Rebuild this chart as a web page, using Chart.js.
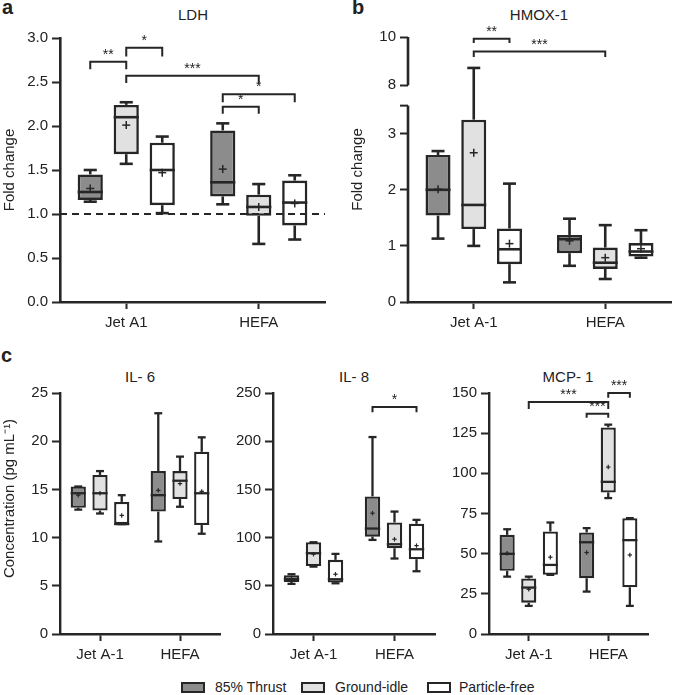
<!DOCTYPE html>
<html><head><meta charset="utf-8">
<script src="https://cdn.jsdelivr.net/npm/chart.js@4.4.0/dist/chart.umd.min.js"></script>
<style>
html,body{margin:0;padding:0;background:#fff}
body{width:673px;height:695px;position:relative;overflow:hidden;font-family:"Liberation Sans",Arial,sans-serif;color:#222}
canvas{position:absolute}
.t{position:absolute;font-size:15px;line-height:15px;transform:translateX(-50%);white-space:nowrap}
.lt{position:absolute;font-weight:bold;font-size:20px;line-height:20px}
.lg{position:absolute;font-size:14px;line-height:14px;white-space:nowrap}
.sw{position:absolute;width:20px;height:7px;border:2px solid #262626}
</style></head><body>
<div class="lt" style="left:2px;top:-3px">a</div>
<div class="lt" style="left:352px;top:-3px">b</div>
<div class="lt" style="left:1px;top:345px">c</div>
<div class="t" style="left:193px;top:7px">LDH</div>
<div class="t" style="left:539px;top:7px">HMOX-1</div>
<div class="t" style="left:140px;top:369px">IL- 6</div>
<div class="t" style="left:354px;top:369px">IL- 8</div>
<div class="t" style="left:568px;top:369px">MCP- 1</div>
<div id="legend"></div>
<canvas id="cA" width="330" height="340" style="left:0;top:0"></canvas>
<canvas id="cB" width="343" height="340" style="left:330px;top:0"></canvas>
<canvas id="c6" width="225" height="345" style="left:0;top:330px"></canvas>
<canvas id="c8" width="215" height="345" style="left:225px;top:330px"></canvas>
<canvas id="cM" width="233" height="345" style="left:440px;top:330px"></canvas>
<script>
// ---------------- data ----------------
const SERIES = ['85% Thrust', 'Ground-idle', 'Particle-free'];
const groupsLDH = ['Jet A1', 'HEFA'];
const groupsOther = ['Jet A-1', 'HEFA'];

// each box: [min, q1, median, q3, max, mean]   (one entry per group)
const ldhThrust = [[1.14, 1.16, 1.25, 1.45, 1.50, 1.29], [1.11, 1.20, 1.36, 1.95, 2.03, 1.51]];
const ldhIdle   = [[1.57, 1.68, 2.10, 2.24, 2.27, 2.01], [0.66, 0.98, 1.08, 1.22, 1.34, 1.08]];
const ldhFree   = [[1.01, 1.10, 1.50, 1.81, 1.88, 1.47], [0.71, 0.87, 1.13, 1.38, 1.44, 1.12]];
const ldhTicks  = [0, 0.5, 1.0, 1.5, 2.0, 2.5, 3.0];
// [group1, series1, group2, series2, bracket value, tip value, label]
const ldhBrackets = [
  [0, 0, 0, 1, 2.73, 2.645, '**'],
  [0, 1, 0, 2, 2.89, 2.79, '*'],
  [0, 1, 1, 1, 2.57, 2.49, '***'],
  [1, 0, 1, 2, 2.36, 2.27, '*'],
  [1, 0, 1, 1, 2.22, 2.14, '*']
];

const hmoxThrust = [[1.13, 1.54, 2.00, 2.62, 2.69, 2.01], [0.645, 0.87, 1.12, 1.195, 1.485, 1.09]];
const hmoxIdle   = [[1.00, 1.30, 1.73, 3.25, 8.72, 2.66], [0.41, 0.59, 0.70, 0.97, 1.37, 0.79]];
const hmoxFree   = [[0.35, 0.675, 0.94, 1.31, 2.11, 1.04], [0.79, 0.81, 0.90, 1.05, 1.28, 0.95]];
const hmoxTicks  = [0, 1, 2, 3, 8, 10];
const hmoxBrackets = [
  [0, 1, 0, 2, 9.93, 9.75, '**'],
  [0, 1, 1, 1, 9.40, 9.17, '***']
];

const il6Thrust = [[12.9, 13.1, 14.6, 15.3, 15.3, 14.4], [9.6, 12.7, 14.4, 16.9, 22.9, 14.9]];
const il6Idle   = [[12.5, 12.8, 14.6, 16.5, 16.9, 14.6], [13.2, 14.0, 15.9, 16.9, 18.4, 15.6]];
const il6Free   = [[11.4, 11.4, 11.4, 13.7, 14.4, 12.3], [10.4, 11.3, 14.6, 18.9, 20.4, 14.8]];
const il6Ticks  = [0, 5, 10, 15, 20, 25];

const il8Thrust = [[52, 54, 57, 61, 62, 57], [97.6, 101, 109.4, 142.7, 204.3, 125.3]];
const il8Idle   = [[69.9, 70.6, 83.8, 95.2, 95.2, 82.8], [78.3, 89, 93.1, 115.7, 127, 98.3]];
const il8Free   = [[52.6, 53.3, 56.8, 76.9, 83.1, 62], [65.1, 77.6, 87.9, 114.3, 118.4, 91.7]];
const il8Ticks  = [0, 50, 100, 150, 200, 250];
const il8Brackets = [[1, 0, 1, 2, 235.5, 230, '*']];

const mcpThrust = [[35.7, 39.3, 49.9, 61.7, 65.2, 50.3], [26.4, 34.7, 57.1, 63.2, 65.9, 50.7]];
const mcpIdle   = [[17.5, 19.5, 28.9, 34.5, 35.7, 27.8], [84.6, 88.1, 94.7, 128.6, 130.3, 103.9]];
const mcpFree   = [[36.8, 36.8, 43.0, 63.8, 69.4, 47.8], [17.5, 29.1, 58.4, 72.1, 72.1, 49.2]];
const mcpTicks  = [0, 25, 50, 75, 100, 125, 150];
const mcpBrackets = [
  [0, 1, 1, 1, 144.4, 140.0, '***'],
  [1, 0, 1, 1, 137.1, 134.6, '***'],
  [1, 1, 1, 2, 150.0, 147.1, '***']
];

// ---------------- style ----------------
const FONT = "'Liberation Sans', Arial, sans-serif";
const INK = '#262626';
const TXT = '#222222';
const FILLS = ['#8c8c8c', '#e1e1e1', '#ffffff'];

// legend (HTML)
(function(){
  const lg = document.getElementById('legend');
  const pos = [[181, 215], [301, 335], [427, 459]];
  SERIES.forEach((s, i) => {
    const sw = document.createElement('div');
    sw.className = 'sw';
    sw.style.left = pos[i][0] + 'px'; sw.style.top = '682px'; sw.style.background = FILLS[i];
    const tx = document.createElement('div');
    tx.className = 'lg'; tx.textContent = s;
    tx.style.left = pos[i][1] + 'px'; tx.style.top = '680px';
    lg.appendChild(sw); lg.appendChild(tx);
  });
})();

// broken axis scale for HMOX-1
const BRK_LO = 3.5, BRK_HI = 8, BRK_TOP = 10, D_LO = 0.741, D_HI = 0.8176;
function brokenDec(v){
  if (v <= BRK_LO) return v / BRK_LO * D_LO;
  if (v >= BRK_HI) return D_HI + (v - BRK_HI) / (BRK_TOP - BRK_HI) * (1 - D_HI);
  return D_LO + (v - BRK_LO) / (BRK_HI - BRK_LO) * (D_HI - D_LO);
}
function brokenVal(d){
  if (d <= D_LO) return d / D_LO * BRK_LO;
  if (d >= D_HI) return BRK_HI + (d - D_HI) / (1 - D_HI) * (BRK_TOP - BRK_HI);
  return BRK_LO + (d - D_LO) / (D_HI - D_LO) * (BRK_HI - BRK_LO);
}
class BrokenScale extends Chart.LinearScale {
  getPixelForValue(v){ return this.getPixelForDecimal(brokenDec(v)); }
  getValueForPixel(p){ return brokenVal(this.getDecimalForPixel(p)); }
}
BrokenScale.id = 'brokenLinear';
BrokenScale.defaults = Chart.LinearScale.defaults;
Chart.register(BrokenScale);

function makeChart(id, cfg){
  const datasets = cfg.stats.map((st, i) => ({
    label: SERIES[i],
    data: st.map(b => [b[1], b[3]]),
    backgroundColor: FILLS[i],
    borderColor: INK,
    borderWidth: cfg.lw,
    borderSkipped: false,
    categoryPercentage: 0.815,
    barPercentage: 0.7
  }));
  const deco = {
    id: 'deco',
    afterDatasetsDraw(chart){
      const ctx = chart.ctx, ys = chart.scales.y, ca = chart.chartArea;
      const P = v => ys.getPixelForValue(v);
      const seg = (x1, y1, x2, y2, w) => { ctx.lineWidth = w; ctx.beginPath(); ctx.moveTo(x1, y1); ctx.lineTo(x2, y2); ctx.stroke(); };
      ctx.save();
      ctx.strokeStyle = INK; ctx.lineCap = 'butt';
      if (cfg.refLine != null) {
        const py = P(cfg.refLine);
        ctx.setLineDash([7, 5]); seg(ca.left, py, ca.right, py, 2.2); ctx.setLineDash([]);
      }
      cfg.stats.forEach((st, i) => {
        const meta = chart.getDatasetMeta(i);
        st.forEach((b, j) => {
          const el = meta.data[j]; const x = el.x, hw = el.width / 2, c = hw * 0.52;
          seg(x, P(b[3]), x, P(b[4]), cfg.lw);
          seg(x, P(b[1]), x, P(b[0]), cfg.lw);
          seg(x - c, P(b[4]), x + c, P(b[4]), cfg.lw);
          seg(x - c, P(b[0]), x + c, P(b[0]), cfg.lw);
          seg(x - hw, P(b[2]), x + hw, P(b[2]), cfg.lw);
          const m = P(b[5]), s = cfg.plus;
          seg(x - s, m, x + s, m, cfg.plusW); seg(x, m - s, x, m + s, cfg.plusW);
        });
      });
      ctx.fillStyle = TXT; ctx.font = '14px ' + FONT; ctx.textAlign = 'center'; ctx.textBaseline = 'alphabetic';
      (cfg.brackets || []).forEach(br => {
        const [g1, s1, g2, s2, yv, tip, label] = br;
        const x1 = chart.getDatasetMeta(s1).data[g1].x, x2 = chart.getDatasetMeta(s2).data[g2].x;
        const py = P(yv), pt = P(tip);
        ctx.lineWidth = 2; ctx.beginPath();
        ctx.moveTo(x1, pt); ctx.lineTo(x1, py); ctx.lineTo(x2, py); ctx.lineTo(x2, pt); ctx.stroke();
        ctx.fillText(label, (x1 + x2) / 2, py - 3);
      });
      if (cfg.broken) {
        const xl = ca.left;
        seg(xl, P(0) + 1.2, xl, P(BRK_LO), cfg.axisW);
        seg(xl, P(BRK_HI), xl, P(BRK_TOP), cfg.axisW);
        seg(xl - 8, P(BRK_LO), xl, P(BRK_LO), 2);
      }
      ctx.restore();
    }
  };
  return new Chart(document.getElementById(id), {
    type: 'bar',
    data: { labels: cfg.labels, datasets },
    plugins: [deco],
    options: {
      responsive: false, animation: false, devicePixelRatio: 1,
      layout: { padding: cfg.pad },
      plugins: { legend: { display: false }, tooltip: { enabled: false }, title: { display: false } },
      scales: {
        x: {
          type: 'category', offset: true,
          grid: { display: true, drawOnChartArea: false, drawTicks: true, tickLength: 7, tickWidth: 2, tickColor: INK, offset: false },
          border: { display: true, width: cfg.axisW, color: INK },
          ticks: { color: TXT, font: { family: FONT, size: 15 }, padding: 5, maxRotation: 0 },
          afterFit: s => { s.height = cfg.xH; }
        },
        y: {
          type: cfg.broken ? 'brokenLinear' : 'linear',
          min: cfg.ticks[0], max: cfg.ticks[cfg.ticks.length - 1],
          afterBuildTicks: s => { s.ticks = cfg.ticks.map(v => ({ value: v })); },
          ticks: { color: TXT, font: { family: FONT, size: 15 }, padding: 4, autoSkip: false, callback: cfg.fmt },
          grid: { display: true, drawOnChartArea: false, drawTicks: true, tickLength: 8, tickWidth: 2, tickColor: INK },
          border: { display: !cfg.broken, width: cfg.axisW, color: INK },
          title: { display: !!cfg.yTitle, text: cfg.yTitle || '', color: TXT, font: { family: FONT, size: 15 }, padding: { top: 1, bottom: 0 } },
          afterFit: s => { s.width = cfg.yW; }
        }
      }
    }
  });
}

const fmt1 = v => Number(v).toFixed(1);
const fmt0 = v => String(v);

makeChart('cA', { labels: groupsLDH, stats: [ldhThrust, ldhIdle, ldhFree], ticks: ldhTicks, fmt: fmt1,
  brackets: ldhBrackets, refLine: 1.0, lw: 2.6, axisW: 2.6, plus: 4, plusW: 1.5,
  pad: { left: 0, top: 38, right: 5, bottom: 0 }, yW: 60, xH: 38, yTitle: 'Fold change' });

makeChart('cB', { labels: groupsOther, stats: [hmoxThrust, hmoxIdle, hmoxFree], ticks: hmoxTicks, fmt: fmt0,
  brackets: hmoxBrackets, broken: true, lw: 2.6, axisW: 2.6, plus: 4, plusW: 1.5,
  pad: { left: 18, top: 37, right: 2, bottom: 0 }, yW: 60, xH: 38, yTitle: 'Fold change' });

makeChart('c6', { labels: groupsOther, stats: [il6Thrust, il6Idle, il6Free], ticks: il6Ticks, fmt: fmt0,
  lw: 2.3, axisW: 2.4, plus: 2.2, plusW: 1.2,
  pad: { left: 0, top: 63, right: 5, bottom: 0 }, yW: 60, xH: 41, yTitle: '\u2003\u2003Concentration (pg mL\u207B\u00B9)' });

makeChart('c8', { labels: groupsOther, stats: [il8Thrust, il8Idle, il8Free], ticks: il8Ticks, fmt: fmt0,
  brackets: il8Brackets, lw: 2.3, axisW: 2.4, plus: 2.2, plusW: 1.2,
  pad: { left: 0, top: 63, right: 5, bottom: 0 }, yW: 48, xH: 41 });

makeChart('cM', { labels: groupsOther, stats: [mcpThrust, mcpIdle, mcpFree], ticks: mcpTicks, fmt: fmt0,
  brackets: mcpBrackets, lw: 2.3, axisW: 2.4, plus: 2.2, plusW: 1.2,
  pad: { left: 0, top: 63, right: 25, bottom: 0 }, yW: 49, xH: 41 });
</script>
</body></html>
